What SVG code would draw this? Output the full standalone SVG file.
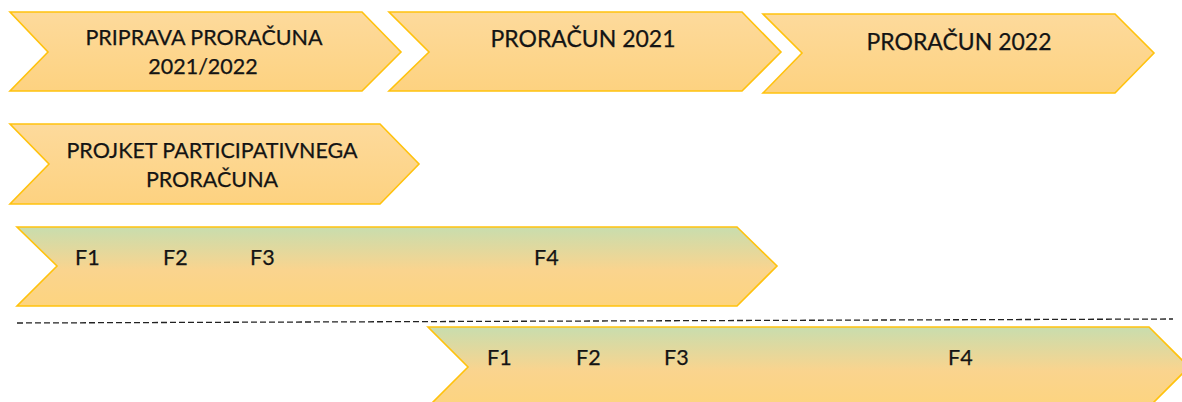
<svg xmlns="http://www.w3.org/2000/svg" width="1182" height="402" viewBox="0 0 1182 402">
<defs>
<linearGradient id="gOrange" x1="0" y1="0" x2="0" y2="1">
<stop offset="0" stop-color="#FDDA9C"/>
<stop offset="1" stop-color="#FDD280"/>
</linearGradient>
<linearGradient id="gGreen" x1="0" y1="0" x2="0" y2="1">
<stop offset="0" stop-color="#C8DDAE"/>
<stop offset="0.55" stop-color="#FAD48E"/>
<stop offset="1" stop-color="#FDD47F"/>
</linearGradient>
<style>
.o{fill:url(#gOrange);stroke:#FFC20E;stroke-width:1.6;stroke-linejoin:miter}
.g{fill:url(#gGreen);stroke:#FFC20E;stroke-width:1.6;stroke-linejoin:miter}
text{font-family:Lato,"Liberation Sans",sans-serif;fill:#141414;stroke:#141414;stroke-width:0.25}
.t{font-size:21.5px;text-anchor:middle}
.t2{font-size:23px;text-anchor:middle}
.f{font-size:21.5px}
.dash{stroke:#222;stroke-width:1.3;stroke-dasharray:6 3;fill:none}
</style>
</defs>
<g id="n1">
<polygon class="o" points="10,12 362,12 401,52 362,91 10,91 48,52"/>
<text class="t" x="204" y="45">PRIPRAVA PRORAČUNA</text>
<text class="t" x="203" y="74">2021/2022</text>
</g>
<g id="n2">
<polygon class="o" points="389,12 742,12 781,52 742,91 389,91 429,52"/>
<text class="t2" x="583" y="47">PRORAČUN 2021</text>
</g>
<g id="n3">
<polygon class="o" points="763,14 1115,14 1154,53 1115,93 763,93 802,53"/>
<text class="t2" x="959" y="50">PRORAČUN 2022</text>
</g>
<g id="n4">
<polygon class="o" points="10,124 380,124 419,164 380,204 10,204 49,164"/>
<text class="t" x="212" y="158">PROJKET PARTICIPATIVNEGA</text>
<text class="t" x="212" y="187">PRORAČUNA</text>
</g>
<g id="n5">
<polygon class="g" points="17,227 737,227 777,266 737,306 17,306 57,266"/>
<text class="f" x="75" y="265">F1</text>
<text class="f" x="163" y="265">F2</text>
<text class="f" x="250" y="265">F3</text>
<text class="f" x="534" y="265">F4</text>
</g>
<g id="connectors">
<line class="dash" x1="17" y1="323" x2="1173" y2="319"/>
</g>
<g id="n6">
<polygon class="g" points="428,327 1149,327 1189,367 1149,407 428,407 468,367"/>
<text class="f" x="487" y="365">F1</text>
<text class="f" x="576" y="365">F2</text>
<text class="f" x="664" y="365">F3</text>
<text class="f" x="948" y="365">F4</text>
</g>
</svg>
